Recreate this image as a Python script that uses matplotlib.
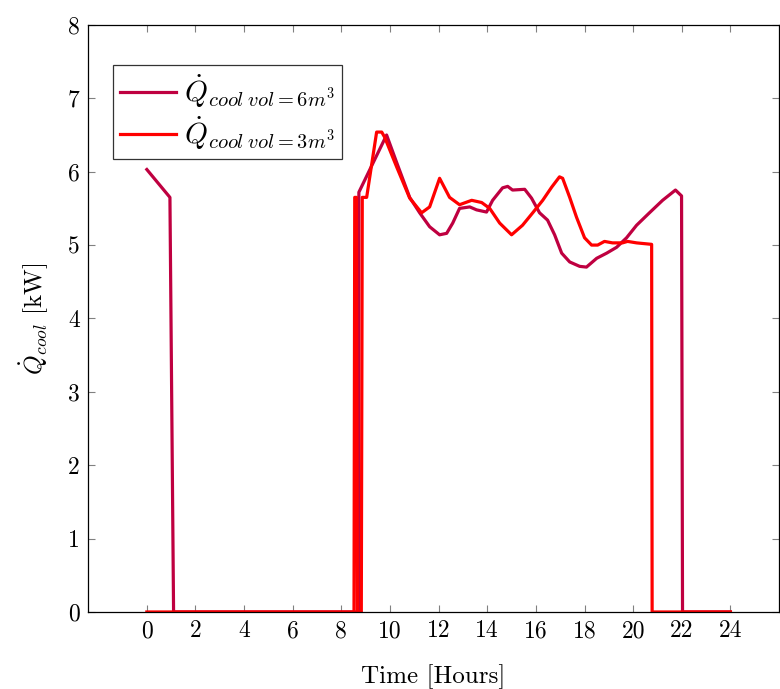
import matplotlib.pyplot as plt

plt.rcParams['font.family'] = 'serif'
plt.rcParams['font.serif'] = ['cmr10', 'DejaVu Serif']
plt.rcParams['mathtext.fontset'] = 'cm'
plt.rcParams['axes.formatter.use_mathtext'] = True

# cooling power, tank volume 6 m3
hours_6 = [0.0, 0.95, 1.1, 8.7, 8.72, 9.86, 10.28, 10.81, 11.22, 11.63, 12.04,
           12.33, 12.58, 12.86, 13.28, 13.56, 13.97, 14.22, 14.63, 14.84, 15.04,
           15.54, 15.82, 16.15, 16.48, 16.77, 17.06, 17.39, 17.80, 18.08, 18.50,
           18.91, 19.32, 19.73, 20.14, 20.67, 21.21, 21.74, 21.99, 22.03, 24.0]
q_6 = [6.03, 5.65, 0.0, 0.0, 5.72, 6.50, 6.12, 5.65, 5.44, 5.25, 5.14,
       5.16, 5.30, 5.50, 5.52, 5.48, 5.45, 5.61, 5.78, 5.80, 5.75,
       5.76, 5.64, 5.44, 5.34, 5.14, 4.89, 4.77, 4.71, 4.70, 4.82,
       4.89, 4.97, 5.10, 5.27, 5.44, 5.61, 5.75, 5.67, 0.0, 0.0]

# cooling power, tank volume 3 m3
hours_3 = [0.0, 8.52, 8.55, 8.62, 8.66, 8.82, 8.86, 9.04, 9.45, 9.66, 9.78,
           10.28, 10.81, 11.30, 11.63, 12.04, 12.45, 12.86, 13.36, 13.77, 14.10,
           14.51, 15.00, 15.45, 15.87, 16.28, 16.65, 16.97, 17.10, 17.39, 17.67,
           18.00, 18.29, 18.54, 18.82, 19.15, 19.56, 19.77, 20.14, 20.76, 20.78,
           24.0]
q_3 = [0.0, 0.0, 5.65, 5.65, 0.0, 0.0, 5.65, 5.65, 6.54, 6.54, 6.47,
       6.06, 5.64, 5.44, 5.52, 5.91, 5.65, 5.55, 5.61, 5.58, 5.50,
       5.30, 5.14, 5.27, 5.44, 5.61, 5.79, 5.93, 5.91, 5.65, 5.38,
       5.10, 5.00, 5.00, 5.05, 5.03, 5.03, 5.05, 5.03, 5.01, 0.0,
       0.0]

x_ticks = list(range(0, 25, 2))
y_ticks = list(range(0, 9))

fig = plt.figure(figsize=(7.8, 6.89), dpi=100)
ax = fig.add_axes([0.1128, 0.1118, 0.8860, 0.8520])

ax.plot(hours_6, q_6, color='#BF0040', lw=2.3,
        label=r'$\dot{Q}_{cool\;vol=6m^3}$')
ax.plot(hours_3, q_3, color='#FF0000', lw=2.3,
        label=r'$\dot{Q}_{cool\;vol=3m^3}$')

ax.set_xlim(-2.42, 26.0)
ax.set_ylim(0, 8)
ax.set_xticks(x_ticks)
ax.set_xticklabels([str(t) for t in x_ticks])
ax.set_yticks(y_ticks)
ax.set_yticklabels([str(t) for t in y_ticks])
ax.tick_params(direction='in', length=5, width=0.8, color='#808080',
               labelsize=17, top=True, right=True, pad=6)
for s in ax.spines.values():
    s.set_linewidth(0.9)

ax.set_xlabel('Time [Hours]', fontsize=18, labelpad=16)
ax.set_ylabel(r'$\dot{Q}_{cool}$ [kW]', fontsize=18, labelpad=12)

leg = ax.legend(loc='upper left', bbox_to_anchor=(0.036, 0.932), fontsize=21,
                frameon=True, fancybox=False, edgecolor='black',
                handlelength=1.9, handletextpad=0.3, borderpad=0.25,
                labelspacing=0.15, borderaxespad=0)
leg.get_frame().set_linewidth(0.9)

fig.savefig('out.png', dpi=100)
